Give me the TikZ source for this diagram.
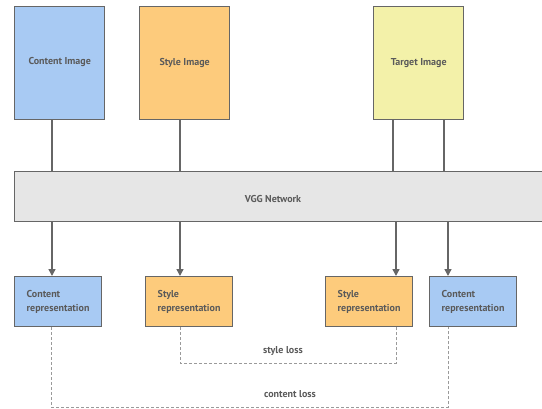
\documentclass[tikz,border=0pt]{standalone}
\usepackage{fontspec}
\setmainfont{PT Sans}
\usetikzlibrary{arrows.meta,calc}
\definecolor{cblue}{HTML}{A8CAF3}
\definecolor{corange}{HTML}{FDCB7C}
\definecolor{cyellow}{HTML}{F3F1A9}
\definecolor{cgray}{HTML}{E6E6E6}
\definecolor{cedge}{HTML}{666666}
\definecolor{ctext}{HTML}{5A5A5A}
\definecolor{cdash}{HTML}{9A9A9A}
\tikzset{
  box/.style={draw=cedge, line width=1.4pt, inner sep=0pt, anchor=north west,
    font=\bfseries\fontsize{10}{14}\selectfont, text=ctext},
  imgbox/.style={box, minimum width=90pt, minimum height=113pt},
  repbox/.style={box, minimum width=87pt, minimum height=50pt,
    text width=63pt, align=left, inner xsep=12pt},
  link/.style={draw=cedge, line width=1.4pt},
  feed/.style={link, -{Triangle[width=7pt,length=7pt]}},
  loss/.style={draw=cdash, line width=1pt, dash pattern=on 3pt off 2pt},
  losslabel/.style={font=\bfseries\fontsize{10}{12}\selectfont, text=ctext, inner sep=1pt}
}
\begin{document}
\begin{tikzpicture}[x=1pt,y=-1pt]
\useasboundingbox (0,0) rectangle (542,408);

% input images
\node[imgbox, fill=cblue]   (ci) at (14,6)  {\raisebox{4pt}{Content Image}};
\node[imgbox, fill=corange] (si) at (139,6) {Style Image};
\node[imgbox, fill=cyellow] (ti) at (373,6) {\raisebox{2pt}{Target Image}};

% shared network
\node[box, fill=cgray, minimum width=534pt, minimum height=50pt] (vgg) at (14,171) {};
\node[font=\bfseries\fontsize{10}{12}\selectfont, text=ctext] (vggl) at (273,199) {VGG Network};

% feature representations
\node[repbox, fill=cblue]   (cr1) at (14,276)  {Content\\representation};
\node[repbox, fill=corange] (sr1) at (145,276) {Style\\representation};
\node[repbox, fill=corange] (sr2) at (325,276) {Style\\representation};
\node[repbox, fill=cblue]   (cr2) at (429,276) {Content\\representation};

% images into the network
\coordinate (a1) at ([xshift=38pt]ci.south west);
\coordinate (a2) at ([xshift=41pt]si.south west);
\coordinate (a3) at ([xshift=20pt]ti.south west);
\coordinate (a4) at ([xshift=71pt]ti.south west);
\draw[link] (a1) -- (a1 |- vgg.north);
\draw[link] (a2) -- (a2 |- vgg.north);
\draw[link] (a3) -- (a3 |- vgg.north);
\draw[link] (a4) -- (a4 |- vgg.north);

% network outputs
\coordinate (b1) at ([xshift=38pt]cr1.north west);
\coordinate (b2) at ([xshift=35pt]sr1.north west);
\coordinate (b3) at ([xshift=71pt]sr2.north west);
\coordinate (b4) at ([xshift=19pt]cr2.north west);
\draw[feed] (b1 |- vgg.south) -- (b1);
\draw[feed] (b2 |- vgg.south) -- (b2);
\draw[feed] (b3 |- vgg.south) -- (b3);
\draw[feed] (b4 |- vgg.south) -- (b4);

% losses
\coordinate (s1) at ([xshift=35pt]sr1.south west);
\coordinate (s2) at ([xshift=71pt]sr2.south west);
\draw[loss] (s1) -- ++(0,36) -| (s2);
\node[losslabel] (sl) at (283,351) {style loss};

\coordinate (c1) at ([xshift=37pt]cr1.south west);
\coordinate (c2) at ([xshift=19pt]cr2.south west);
\draw[loss] (c1) -- ++(0,80) -| (c2);
\node[losslabel] (cl) at (290,394) {content loss};
\end{tikzpicture}
\end{document}
